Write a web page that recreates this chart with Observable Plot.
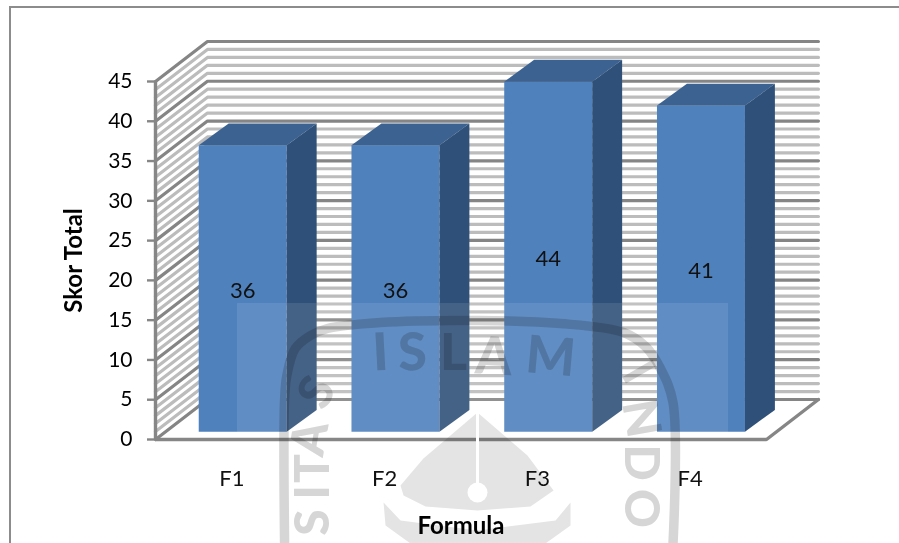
<!DOCTYPE html>
<html><head><meta charset="utf-8">
<script src="https://cdn.jsdelivr.net/npm/d3@7"></script>
<script src="https://cdn.jsdelivr.net/npm/@observablehq/plot@0.6"></script>
<style>
html,body{margin:0;padding:0;background:#fff;overflow:hidden}
#chart{position:relative;width:899px;height:543px}
#chart svg{display:block;position:absolute;left:0;top:0;background:transparent}
#chart:before{content:"";position:absolute;left:9px;top:6px;right:0;bottom:0;border-left:2.5px solid #8c8c8c;border-top:2.5px solid #8c8c8c}
</style></head><body><div id="chart"></div>
<script>
// chart values
const categories = ["F1","F2","F3","F4"];
const values = [36,36,44,41];
const yTicks = [0,5,10,15,20,25,30,35,40,45];
const xTitle = "Formula";
const yTitle = "Skor Total";

// 3D look, in chart units (x: one unit per category; y: score)
const wallDx = 0.34, wallDy = 5.03;
const barHalf = 0.288, barFrontDx = 0.071, barFrontDy = 0.98, barDepthDx = 0.196, barDepthDy = 2.74;

// watermark shapes in chart units
const wmRingX = [.845,.845,.86,.915,1.015,1.126,1.473,2.108,2.651,3.064,3.208,3.306,3.388,3.388];
const wmRingY = [-13.07,4.9,8.04,11.44,13.07,13.95,14.71,14.96,14.58,13.45,11.69,8.92,4.65,-13.07];
const wmEmblemX = [2.108,1.754,1.604,1.624,1.768,2.108,2.455,2.606,2.435];
const wmEmblemY = [3.39,-2.39,-5.78,-7.04,-8.42,-8.92,-8.42,-6.41,-2.01];
const wmCrescentX = [1.493,1.506,1.669,2.553,2.717,2.717,2.619,2.108,1.604];
const wmCrescentY = [-7.92,-10.81,-13.07,-13.07,-10.81,-7.92,-10.18,-11.44,-10.18];
const wmLetters = ["I","S","L","A","M","S","A","T","I","S","I","N","D","O"];
const wmLetterX = [1.473,1.683,1.951,2.213,2.586,1.06,1.015,1.034,1.034,1.034,3.155,3.175,3.175,3.175];
const wmLetterY = [10.81,10.81,10.81,10.3,10.3,5.9,.12,-3.65,-6.66,-10.43,8.42,2.64,-2.89,-8.67];
const wmLetterAngle = [-3,-2,0,3,5,-60,-80,-90,-90,-90,60,80,90,90];
const wmLetterSize = [52,52,52,52,52,48,48,48,48,48,48,48,48,48];

const font = "Lato, 'Open Sans', sans-serif";
const n = categories.length;
const majorV = yTicks;
const minorV = d3.range(0,46).filter(v => v % 5);

const wallLines = vs => vs.flatMap(v => [
  {k:v,x:0,y:v},{k:v,x:wallDx,y:v+wallDy},{k:v,x:n+wallDx,y:v+wallDy}
]);
const polys = {front:[],top:[],side:[]};
values.forEach((v,i) => {
  const c = i + .5 + barFrontDx, b = barFrontDy;
  const l = c - barHalf, r = c + barHalf, t = b + v;
  const dx = barDepthDx, dy = barDepthDy;
  polys.front.push(...[[l,b],[r,b],[r,t],[l,t]].map(([x,y]) => ({k:i,x,y})));
  polys.top.push(...[[l,t],[r,t],[r+dx,t+dy],[l+dx,t+dy]].map(([x,y]) => ({k:i,x,y})));
  polys.side.push(...[[r,b],[r+dx,b+dy],[r+dx,t+dy],[r,t]].map(([x,y]) => ({k:i,x,y})));
});
const barLabels = values.map((v,i) => ({x:i+.5+barFrontDx, y:barFrontDy+v/2-.25, t:String(v)}));
const zip = (xs,ys) => xs.map((x,i) => ({x,y:ys[i]}));
const letters = wmLetters.map((t,i) => ({t,x:wmLetterX[i],y:wmLetterY[i],a:wmLetterAngle[i],s:wmLetterSize[i]}));
const wmGray = "#d6d6d6";

const plot = Plot.plot({
  width:899, height:543,
  marginLeft:155, marginRight:133, marginTop:81, marginBottom:104,
  style:{fontFamily:font, background:"transparent", overflow:"visible"},
  x:{domain:[0,n], axis:null},
  y:{domain:[0,45], axis:null},
  marks:[
    // walls
    Plot.line(wallLines(minorV),{x:"x",y:"y",z:"k",stroke:"#bcbcbc",strokeWidth:3.2,curve:"linear"}),
    Plot.line(wallLines(majorV),{x:"x",y:"y",z:"k",stroke:"#858585",strokeWidth:3.2,curve:"linear"}),
    // floor edges
    Plot.line([{x:n,y:0},{x:n+wallDx,y:wallDy}],{x:"x",y:"y",stroke:"#868686",strokeWidth:3.4}),
    // bars
    Plot.line(polys.front,{x:"x",y:"y",z:"k",fill:"#4f81bd",stroke:"none"}),
    Plot.line(polys.top,{x:"x",y:"y",z:"k",fill:"#3b6291",stroke:"none"}),
    Plot.line(polys.side,{x:"x",y:"y",z:"k",fill:"#2f5179",stroke:"none"}),
    // axis lines
    Plot.ruleY([0],{x1:0,x2:n,stroke:"#868686",strokeWidth:3.4}),
    Plot.ruleX([0],{y1:0,y2:45,stroke:"#868686",strokeWidth:3.4}),
    Plot.axisY({ticks:yTicks,tickSize:8,tickPadding:15,fontSize:21,stroke:"#868686",strokeWidth:2.4,fill:"#000",label:null}),
    Plot.axisX({ticks:categories.map((c,i) => i+.5),tickFormat:d => categories[d-.5],tickSize:0,tickPadding:31,fontSize:22,fill:"#111",label:null}),
    // data labels
    Plot.text(barLabels,{x:"x",y:"y",text:"t",fontSize:22,fill:"#111"}),
    // titles
    Plot.text([yTitle],{x:-.53,y:22.5,rotate:-90,fontSize:24,fontWeight:700,fill:"#000"}),
    // watermark
    Plot.rect([0],{x1:.537,x2:3.751,y1:.88,y2:17.09,fill:"#fff",fillOpacity:.1}),
    Plot.line(zip(wmRingX,wmRingY),{x:"x",y:"y",stroke:wmGray,strokeWidth:9.5,curve:"catmull-rom",mixBlendMode:"multiply"}),
    Plot.line(zip(wmEmblemX,wmEmblemY),{x:"x",y:"y",fill:"#e4e4e4",stroke:"none",mixBlendMode:"multiply"}),
    Plot.line(zip(wmCrescentX,wmCrescentY),{x:"x",y:"y",fill:"#e4e4e4",stroke:"none",mixBlendMode:"multiply"}),
    Plot.ruleX([2.108],{y1:3.39,y2:-6,stroke:"#fff",strokeWidth:3}),
    Plot.dot([{x:2.108,y:-6.66}],{x:"x",y:"y",r:10,fill:"#fff"}),
    Plot.text(letters,{x:"x",y:"y",text:"t",rotate:"a",fontSize:"s",fontWeight:900,fill:wmGray,mixBlendMode:"multiply"}),
    Plot.text([xTitle],{x:2,y:-10.9,fontSize:24,fontWeight:700,fill:"#000"})
  ]
});
document.getElementById("chart").appendChild(plot);
</script></body></html>
